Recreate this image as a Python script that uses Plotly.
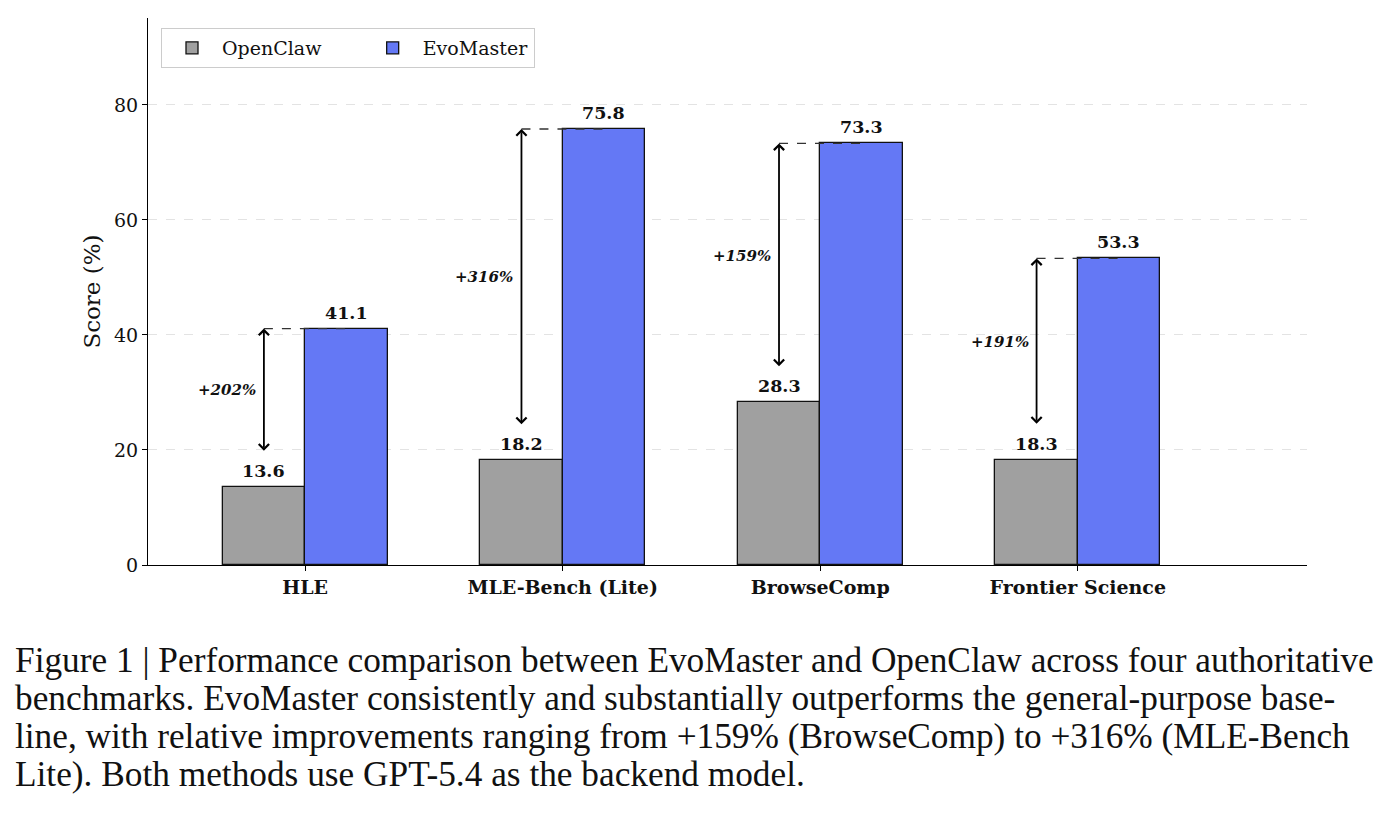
import plotly.graph_objects as go

categories = ["HLE", "MLE-Bench (Lite)", "BrowseComp", "Frontier Science"]
openclaw = [13.6, 18.2, 28.3, 18.3]
evomaster = [41.1, 75.8, 73.3, 53.3]
gains = ["+202%", "+316%", "+159%", "+191%"]
y_ticks = [0, 20, 40, 60, 80]
caption_lines = [
    "Figure 1 | Performance comparison between EvoMaster and OpenClaw across four authoritative",
    "benchmarks. EvoMaster consistently and substantially outperforms the general-purpose base-",
    "line, with relative improvements ranging from +159% (BrowseComp) to +316% (MLE-Bench",
    "Lite). Both methods use GPT-5.4 as the backend model.",
]

W, H = 1397, 815
L, R, T, B = 148, 90, 18, 250
PW, PH = W - L - R, H - T - B
BW = 0.32
SERIF = "DejaVu Serif"
GRAY = "#A0A0A0"
BLUE = "#6478F5"
NB = "\u00a0"

idx = list(range(len(categories)))
xg = [i - BW / 2 for i in idx]
xb = [i + BW / 2 for i in idx]

fig = go.Figure()
fig.add_trace(go.Bar(x=xg, y=openclaw, width=BW, name="OpenClaw" + NB * 6,
                     marker=dict(color=GRAY, line=dict(color="#111111", width=1.3))))
fig.add_trace(go.Bar(x=xb, y=evomaster, width=BW, name="EvoMaster",
                     marker=dict(color=BLUE, line=dict(color="#111111", width=1.3))))

ann = []
shapes = []
for i in idx:
    ann.append(dict(x=xg[i], y=openclaw[i], xref="x", yref="y", text=f"<b>{openclaw[i]}</b>",
                    showarrow=False, yanchor="bottom", yshift=4,
                    font=dict(family=SERIF, size=17.5, color="#111")))
    ann.append(dict(x=xb[i], y=evomaster[i], xref="x", yref="y", text=f"<b>{evomaster[i]}</b>",
                    showarrow=False, yanchor="bottom", yshift=4,
                    font=dict(family=SERIF, size=17.5, color="#111")))
    lo = openclaw[i] + 6
    hi = evomaster[i]
    shapes.append(dict(type="line", xref="x", yref="y", x0=xg[i], x1=xb[i], y0=hi, y1=hi,
                       line=dict(color="#333333", width=1.3, dash="dash"), layer="above"))
    ann.append(dict(x=xg[i], y=hi, ax=xg[i], ay=lo, xref="x", yref="y", axref="x", ayref="y",
                    text="", showarrow=True, arrowhead=4, startarrowhead=4, arrowside="end+start",
                    arrowsize=1.1, startarrowsize=1.1, arrowwidth=1.8, arrowcolor="#000000",
                    standoff=0, startstandoff=0))
    ann.append(dict(x=xg[i], y=(lo + hi) / 2, xref="x", yref="y", text=f"<b><i>{gains[i]}</i></b>",
                    showarrow=False, xanchor="right", yanchor="middle", xshift=-6,
                    font=dict(family=SERIF, size=15, color="#111")))

for k, line in enumerate(caption_lines):
    py = 660 + 38 * k
    ann.append(dict(x=(13 - L) / PW, y=(H - B - py) / PH, xref="paper", yref="paper",
                    text=line, showarrow=False, xanchor="left", yanchor="middle",
                    font=dict(family="Liberation Serif", size=35.3, color="#111")))

fig.update_layout(
    width=W, height=H,
    margin=dict(l=L, r=R, t=T, b=B),
    paper_bgcolor="white", plot_bgcolor="white",
    barmode="overlay",
    bargap=0,
    showlegend=True,
    legend=dict(orientation="h", x=(161 - L) / PW, y=1 - (28 - T) / PH, xanchor="left", yanchor="top",
                bgcolor="white", bordercolor="#cccccc", borderwidth=1,
                font=dict(family=SERIF, size=19, color="#111"), itemwidth=50,
                traceorder="normal"),
    xaxis=dict(range=[-0.61, 3.89], tickvals=idx, ticktext=[f"<b>{c}</b>" for c in categories],
               showline=True, linecolor="#000", linewidth=1.2, ticks="outside", ticklen=5,
               tickcolor="#000", showgrid=False, zeroline=False,
               tickfont=dict(family=SERIF, size=19, color="#111")),
    yaxis=dict(range=[0, 95.1], tickvals=y_ticks, showline=True, linecolor="#000", linewidth=1.2,
               ticks="outside", ticklen=5, tickcolor="#000", showgrid=True, gridcolor="#e3e3e3",
               griddash="dash", gridwidth=1, zeroline=False,
               tickfont=dict(family=SERIF, size=19, color="#111"),
               title=dict(text="Score (%)", font=dict(family=SERIF, size=23, color="#111"), standoff=6)),
    annotations=ann,
    shapes=shapes,
)

fig.write_html("out.html")
